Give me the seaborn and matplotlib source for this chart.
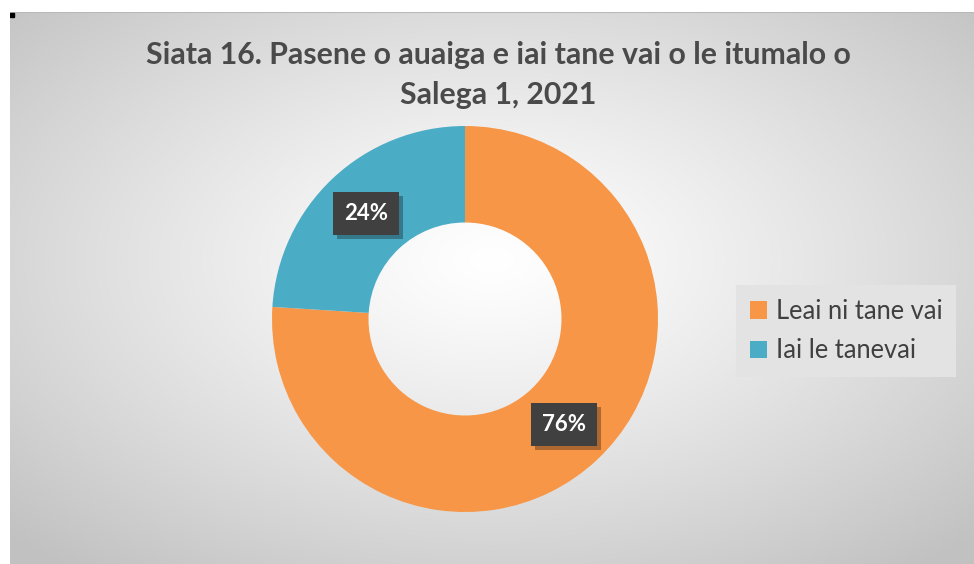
import numpy as np
import matplotlib
matplotlib.use("Agg")
import matplotlib.pyplot as plt
import matplotlib.patheffects as pe
from matplotlib.patches import Patch
import seaborn as sns

# ---- data ----
title = "Siata 16. Pasene o auaiga e iai tane vai o le itumalo o\nSalega 1, 2021"
categories = ["Leai ni tane vai", "Iai le tanevai"]
values = [76, 24]
colors = ["#F79646", "#4BACC6"]

sns.set_style("white")
plt.rcParams['font.family'] = ['Lato', 'DejaVu Sans']

W, H = 974, 564
fig = plt.figure(figsize=(W / 100, H / 100), dpi=100)
fig.patch.set_facecolor("white")

# background radial gradient for chart area
x0, y0, x1, y1 = 10, 12, 974, 564
bg = fig.add_axes([x0 / W, 1 - y1 / H, (x1 - x0) / W, (y1 - y0) / H])
bg.set_axis_off()
nx, ny = 400, 240
xx, yy = np.meshgrid(np.linspace(-1, 1, nx), np.linspace(-1, 1, ny))
d = np.sqrt(((xx - 0.0) / 1.0) ** 2 + ((yy + 0.1) / 1.0) ** 2) / np.sqrt(2)
d = np.clip(d, 0, 1)
c = 1.0 - (1.0 - 0.76) * d ** 1.2
img = np.dstack([c, c, c])
bg.imshow(img, extent=[0, 1, 0, 1], aspect="auto", origin="upper", interpolation="bilinear")
bg.set_xlim(0, 1)
bg.set_ylim(0, 1)
bg.axhline(1, color="#b8b8b8", lw=1.5)
bg.plot([0.002], [0.994], marker="s", color="black", ms=2.5)

# donut
cx, cy, r = 465, 319, 193
ax = fig.add_axes([(cx - r) / W, (H - cy - r) / H, 2 * r / W, 2 * r / H])
wedges, texts, autotexts = ax.pie(
    values, colors=colors, startangle=90, counterclock=False,
    autopct=lambda p: f"{p:.0f}%", pctdistance=0.75,
    wedgeprops=dict(width=0.5, edgecolor="none"),
    textprops=dict(color="white", fontsize=16, fontweight="bold"),
)
ax.set_xlim(-1, 1)
ax.set_ylim(-1, 1)
ax.set_axis_off()
for t in autotexts:
    t.set_bbox(dict(boxstyle="square,pad=0.5", facecolor="#404040", edgecolor="none"))
    t.get_bbox_patch().set_path_effects([pe.withSimplePatchShadow(offset=(3, -3), alpha=0.3, shadow_rgbFace="black")])

# title
fig.text(498 / W, 1 - 75 / H, title, ha="center", va="center", fontsize=21.8,
         fontweight="bold", color="#4a4a4a", linespacing=1.5)

# legend
handles = [Patch(facecolor=c_, edgecolor="none") for c_ in colors]
leg = fig.legend(handles, categories, loc="center left",
                 bbox_to_anchor=(736 / W, 1 - 331 / H), frameon=True,
                 fancybox=False, fontsize=18.4, handlelength=0.65, handleheight=0.65,
                 handletextpad=0.35, labelspacing=0.55, borderpad=0.55,
                 borderaxespad=0, labelcolor="#404040")
leg.get_frame().set_facecolor("#e3e3e3")
leg.get_frame().set_edgecolor("none")
leg.get_frame().set_alpha(1)

fig.savefig("out.png", dpi=100)
